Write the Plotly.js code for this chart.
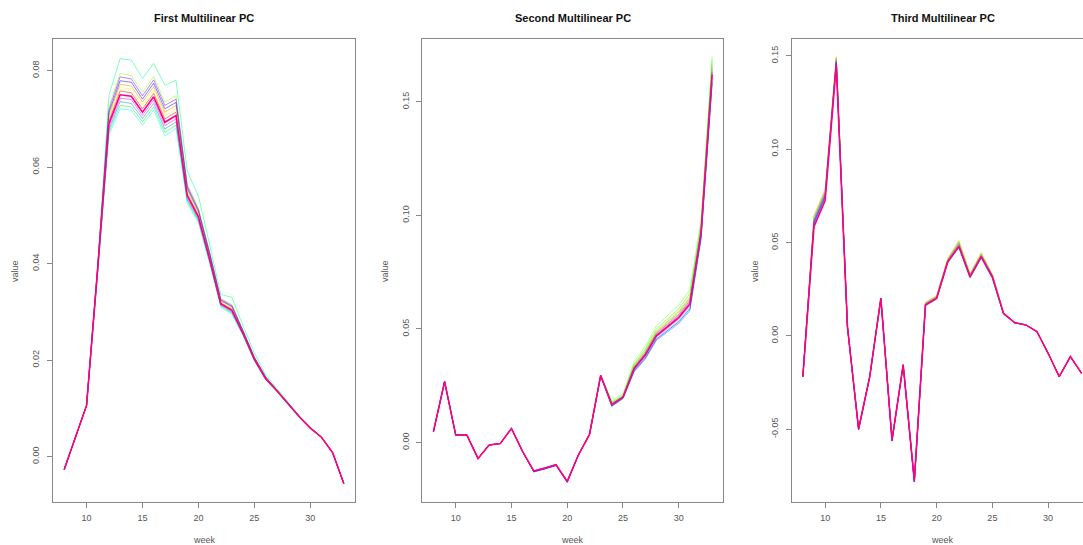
<!DOCTYPE html>
<html>
<head>
<meta charset="utf-8">
<script src="https://cdn.plot.ly/plotly-3.0.1.min.js"></script>
<style>html,body{margin:0;padding:0;background:#fff;}#chart{width:1083px;height:545px;}</style>
</head>
<body>
<div id="chart"></div>
<script>
const weeks = [8,9,10,11,12,13,14,15,16,17,18,19,20,21,22,23,24,25,26,27,28,29,30,31,32,33];
const seriesColors = ["#FF0000","#FF8000","#FFFF00","#80FF00","#00FF00","#00FF80","#00FFFF","#0080FF","#0000FF","#8000FF","#FF00FF","#FF0080"];
const panelTitles = ["First Multilinear PC","Second Multilinear PC","Third Multilinear PC"];
const xTickVals = [10,15,20,25,30];
const xTickText = ["10","15","20","25","30"];
const y1TickVals = [0,0.02,0.04,0.06,0.08];
const y1TickText = ["0.00","0.02","0.04","0.06","0.08"];
const y2TickVals = [0,0.05,0.10,0.15];
const y2TickText = ["0.00","0.05","0.10","0.15"];
const y3TickVals = [-0.05,0,0.05,0.10,0.15];
const y3TickText = ["-0.05","0.00","0.05","0.10","0.15"];

// First multilinear PC
const pc1_s01 = [-0.0027,0.0039,0.0106,0.0391,0.0696,0.0758,0.0754,0.0721,0.0753,0.0700,0.0714,0.0545,0.0500,0.0413,0.0319,0.0305,0.0256,0.0203,0.0163,0.0137,0.0110,0.0083,0.0060,0.0040,0.0008,-0.0056];
const pc1_s02 = [-0.0027,0.0039,0.0106,0.0393,0.0707,0.0772,0.0768,0.0735,0.0767,0.0714,0.0728,0.0553,0.0506,0.0418,0.0323,0.0309,0.0258,0.0204,0.0164,0.0138,0.0110,0.0083,0.0060,0.0040,0.0008,-0.0056];
const pc1_s03 = [-0.0027,0.0039,0.0106,0.0392,0.0701,0.0765,0.0761,0.0728,0.0760,0.0707,0.0721,0.0549,0.0503,0.0415,0.0321,0.0307,0.0257,0.0203,0.0164,0.0137,0.0110,0.0083,0.0060,0.0040,0.0008,-0.0056];
const pc1_s04 = [-0.0027,0.0039,0.0106,0.0396,0.0725,0.0794,0.0790,0.0755,0.0788,0.0735,0.0748,0.0565,0.0515,0.0425,0.0328,0.0315,0.0262,0.0207,0.0166,0.0139,0.0111,0.0084,0.0060,0.0040,0.0008,-0.0056];
const pc1_s05 = [-0.0027,0.0039,0.0106,0.0387,0.0672,0.0728,0.0725,0.0694,0.0725,0.0672,0.0687,0.0529,0.0488,0.0403,0.0312,0.0297,0.0251,0.0199,0.0161,0.0135,0.0108,0.0082,0.0059,0.0040,0.0008,-0.0056];
const pc1_s06 = [-0.0027,0.0039,0.0106,0.0400,0.0749,0.0825,0.0822,0.0784,0.0815,0.0770,0.0780,0.0592,0.0540,0.0440,0.0336,0.0330,0.0270,0.0215,0.0170,0.0142,0.0113,0.0085,0.0061,0.0041,0.0008,-0.0056];
const pc1_s07 = [-0.0027,0.0039,0.0106,0.0386,0.0666,0.0721,0.0718,0.0687,0.0718,0.0665,0.0680,0.0525,0.0485,0.0400,0.0310,0.0295,0.0250,0.0198,0.0160,0.0135,0.0108,0.0082,0.0059,0.0040,0.0008,-0.0056];
const pc1_s08 = [-0.0027,0.0039,0.0106,0.0388,0.0678,0.0736,0.0732,0.0701,0.0732,0.0679,0.0694,0.0533,0.0491,0.0405,0.0314,0.0299,0.0252,0.0200,0.0161,0.0136,0.0109,0.0082,0.0059,0.0040,0.0008,-0.0056];
const pc1_s09 = [-0.0027,0.0039,0.0106,0.0394,0.0713,0.0779,0.0776,0.0741,0.0774,0.0721,0.0734,0.0557,0.0509,0.0420,0.0324,0.0311,0.0260,0.0205,0.0165,0.0138,0.0110,0.0084,0.0060,0.0040,0.0008,-0.0056];
const pc1_s10 = [-0.0027,0.0039,0.0106,0.0395,0.0719,0.0787,0.0783,0.0748,0.0781,0.0728,0.0741,0.0561,0.0512,0.0423,0.0326,0.0313,0.0261,0.0206,0.0165,0.0139,0.0111,0.0084,0.0060,0.0040,0.0008,-0.0056];
const pc1_s11 = [-0.0027,0.0039,0.0106,0.0389,0.0684,0.0743,0.0740,0.0707,0.0739,0.0686,0.0700,0.0537,0.0494,0.0408,0.0315,0.0301,0.0254,0.0201,0.0162,0.0136,0.0109,0.0083,0.0059,0.0040,0.0008,-0.0056];
const pc1_s12 = [-0.0027,0.0039,0.0106,0.0390,0.0690,0.0750,0.0747,0.0714,0.0746,0.0693,0.0707,0.0541,0.0497,0.0410,0.0317,0.0303,0.0255,0.0202,0.0162,0.0137,0.0109,0.0083,0.0059,0.0040,0.0008,-0.0056];

// Second multilinear PC
const pc2_s01 = [0.0048,0.0268,0.0033,0.0033,-0.0070,-0.0011,-0.0004,0.0062,-0.0040,-0.0125,-0.0112,-0.0097,-0.0171,-0.0055,0.0036,0.0296,0.0171,0.0202,0.0332,0.0394,0.0480,0.0522,0.0563,0.0625,0.0933,0.1642];
const pc2_s02 = [0.0048,0.0268,0.0033,0.0033,-0.0070,-0.0011,-0.0004,0.0062,-0.0040,-0.0125,-0.0112,-0.0097,-0.0171,-0.0055,0.0036,0.0296,0.0175,0.0205,0.0339,0.0403,0.0490,0.0534,0.0576,0.0640,0.0946,0.1664];
const pc2_s03 = [0.0048,0.0268,0.0033,0.0033,-0.0070,-0.0011,-0.0004,0.0062,-0.0040,-0.0125,-0.0112,-0.0097,-0.0171,-0.0055,0.0036,0.0296,0.0177,0.0207,0.0343,0.0408,0.0495,0.0540,0.0583,0.0648,0.0953,0.1675];
const pc2_s04 = [0.0048,0.0268,0.0033,0.0033,-0.0070,-0.0011,-0.0004,0.0062,-0.0040,-0.0125,-0.0112,-0.0097,-0.0171,-0.0055,0.0036,0.0296,0.0186,0.0214,0.0356,0.0424,0.0513,0.0560,0.0605,0.0672,0.0975,0.1700];
const pc2_s05 = [0.0048,0.0268,0.0033,0.0033,-0.0070,-0.0011,-0.0004,0.0062,-0.0040,-0.0125,-0.0112,-0.0097,-0.0171,-0.0055,0.0036,0.0296,0.0173,0.0204,0.0336,0.0399,0.0485,0.0528,0.0570,0.0633,0.0940,0.1653];
const pc2_s06 = [0.0048,0.0268,0.0033,0.0033,-0.0070,-0.0011,-0.0004,0.0062,-0.0040,-0.0125,-0.0112,-0.0097,-0.0171,-0.0055,0.0036,0.0296,0.0179,0.0208,0.0346,0.0412,0.0500,0.0546,0.0589,0.0655,0.0959,0.1686];
const pc2_s07 = [0.0048,0.0268,0.0033,0.0033,-0.0070,-0.0011,-0.0004,0.0062,-0.0040,-0.0125,-0.0112,-0.0097,-0.0171,-0.0055,0.0036,0.0296,0.0163,0.0196,0.0318,0.0376,0.0460,0.0498,0.0537,0.0595,0.0907,0.1598];
const pc2_s08 = [0.0048,0.0268,0.0033,0.0033,-0.0070,-0.0011,-0.0004,0.0062,-0.0040,-0.0129,-0.0116,-0.0101,-0.0175,-0.0055,0.0036,0.0292,0.0159,0.0193,0.0311,0.0367,0.0450,0.0486,0.0524,0.0580,0.0894,0.1576];
const pc2_s09 = [0.0048,0.0268,0.0033,0.0033,-0.0070,-0.0011,-0.0004,0.0062,-0.0040,-0.0129,-0.0116,-0.0101,-0.0175,-0.0055,0.0036,0.0292,0.0161,0.0195,0.0315,0.0372,0.0455,0.0492,0.0531,0.0588,0.0900,0.1587];
const pc2_s10 = [0.0048,0.0268,0.0033,0.0033,-0.0070,-0.0011,-0.0004,0.0062,-0.0040,-0.0129,-0.0116,-0.0101,-0.0175,-0.0055,0.0036,0.0292,0.0169,0.0201,0.0329,0.0390,0.0475,0.0516,0.0557,0.0618,0.0927,0.1631];
const pc2_s11 = [0.0048,0.0268,0.0033,0.0033,-0.0070,-0.0011,-0.0004,0.0062,-0.0040,-0.0125,-0.0112,-0.0097,-0.0171,-0.0055,0.0036,0.0296,0.0165,0.0198,0.0322,0.0381,0.0465,0.0504,0.0544,0.0603,0.0914,0.1609];
const pc2_s12 = [0.0048,0.0268,0.0033,0.0033,-0.0070,-0.0011,-0.0004,0.0062,-0.0040,-0.0125,-0.0112,-0.0097,-0.0171,-0.0055,0.0036,0.0296,0.0167,0.0199,0.0325,0.0385,0.0470,0.0510,0.0550,0.0610,0.0920,0.1620];

// Third multilinear PC
const pc3_s01 = [-0.0219,0.0630,0.0770,0.1483,0.0049,-0.0498,-0.0219,0.0201,-0.0558,-0.0156,-0.0778,0.0174,0.0209,0.0408,0.0498,0.0326,0.0436,0.0323,0.0122,0.0070,0.0058,0.0022,-0.0094,-0.0219,-0.0112,-0.0201];
const pc3_s02 = [-0.0219,0.0645,0.0785,0.1495,0.0049,-0.0495,-0.0219,0.0201,-0.0555,-0.0156,-0.0775,0.0180,0.0215,0.0415,0.0510,0.0333,0.0445,0.0330,0.0125,0.0070,0.0058,0.0022,-0.0094,-0.0219,-0.0112,-0.0201];
const pc3_s03 = [-0.0219,0.0640,0.0780,0.1491,0.0049,-0.0496,-0.0219,0.0201,-0.0556,-0.0156,-0.0776,0.0178,0.0213,0.0413,0.0506,0.0331,0.0442,0.0328,0.0124,0.0070,0.0058,0.0022,-0.0094,-0.0219,-0.0112,-0.0201];
const pc3_s04 = [-0.0219,0.0625,0.0765,0.1479,0.0049,-0.0499,-0.0219,0.0201,-0.0559,-0.0156,-0.0779,0.0172,0.0207,0.0405,0.0494,0.0323,0.0433,0.0320,0.0121,0.0070,0.0058,0.0022,-0.0094,-0.0219,-0.0112,-0.0201];
const pc3_s05 = [-0.0219,0.0615,0.0755,0.1471,0.0049,-0.0501,-0.0219,0.0201,-0.0561,-0.0156,-0.0781,0.0168,0.0203,0.0400,0.0486,0.0318,0.0427,0.0315,0.0119,0.0070,0.0058,0.0022,-0.0094,-0.0219,-0.0112,-0.0201];
const pc3_s06 = [-0.0219,0.0635,0.0775,0.1487,0.0049,-0.0497,-0.0219,0.0201,-0.0557,-0.0156,-0.0777,0.0176,0.0211,0.0410,0.0502,0.0328,0.0439,0.0325,0.0123,0.0070,0.0058,0.0022,-0.0094,-0.0219,-0.0112,-0.0201];
const pc3_s07 = [-0.0219,0.0595,0.0735,0.1455,0.0049,-0.0505,-0.0219,0.0201,-0.0565,-0.0156,-0.0785,0.0160,0.0195,0.0390,0.0470,0.0308,0.0415,0.0305,0.0115,0.0070,0.0058,0.0022,-0.0094,-0.0219,-0.0112,-0.0201];
const pc3_s08 = [-0.0219,0.0605,0.0745,0.1463,0.0049,-0.0503,-0.0219,0.0201,-0.0563,-0.0156,-0.0783,0.0164,0.0199,0.0395,0.0478,0.0313,0.0421,0.0310,0.0117,0.0070,0.0058,0.0022,-0.0094,-0.0219,-0.0112,-0.0201];
const pc3_s09 = [-0.0219,0.0610,0.0750,0.1467,0.0049,-0.0502,-0.0219,0.0201,-0.0562,-0.0156,-0.0782,0.0166,0.0201,0.0398,0.0482,0.0316,0.0424,0.0313,0.0118,0.0070,0.0058,0.0022,-0.0094,-0.0219,-0.0112,-0.0201];
const pc3_s10 = [-0.0219,0.0600,0.0740,0.1459,0.0049,-0.0504,-0.0219,0.0201,-0.0564,-0.0156,-0.0784,0.0162,0.0197,0.0393,0.0474,0.0311,0.0418,0.0308,0.0116,0.0070,0.0058,0.0022,-0.0094,-0.0219,-0.0112,-0.0201];
const pc3_s11 = [-0.0219,0.0620,0.0760,0.1475,0.0049,-0.0500,-0.0219,0.0201,-0.0560,-0.0156,-0.0780,0.0170,0.0205,0.0403,0.0490,0.0321,0.0430,0.0318,0.0120,0.0070,0.0058,0.0022,-0.0094,-0.0219,-0.0112,-0.0201];
const pc3_s12 = [-0.0219,0.0585,0.0725,0.1450,0.0049,-0.0500,-0.0219,0.0201,-0.0560,-0.0156,-0.0775,0.0165,0.0201,0.0397,0.0478,0.0317,0.0424,0.0317,0.0120,0.0070,0.0058,0.0022,-0.0094,-0.0219,-0.0112,-0.0201];

const panels = [
  [pc1_s01,pc1_s02,pc1_s03,pc1_s04,pc1_s05,pc1_s06,pc1_s07,pc1_s08,pc1_s09,pc1_s10,pc1_s11,pc1_s12],
  [pc2_s01,pc2_s02,pc2_s03,pc2_s04,pc2_s05,pc2_s06,pc2_s07,pc2_s08,pc2_s09,pc2_s10,pc2_s11,pc2_s12],
  [pc3_s01,pc3_s02,pc3_s03,pc3_s04,pc3_s05,pc3_s06,pc3_s07,pc3_s08,pc3_s09,pc3_s10,pc3_s11,pc3_s12]
];

const traces = [];
panels.forEach((series, p) => {
  const ax = p === 0 ? '' : String(p + 1);
  series.forEach((vals, i) => {
    const last = i === series.length - 1;
    traces.push({
      x: weeks, y: vals, type: 'scatter', mode: 'lines',
      xaxis: 'x' + ax, yaxis: 'y' + ax,
      line: {color: seriesColors[i], width: last ? 1.6 : 1},
      opacity: last ? 1 : 0.5,
      hoverinfo: 'skip', showlegend: false
    });
  });
});

const W = 1083, H = 545;
const boxTop = 39.3, boxBottom = 501.6;
const yDom = [1 - boxBottom / H, 1 - boxTop / H];
const FONT = 'Liberation Sans, Arial, Helvetica, sans-serif';
const tickFont = {family: FONT, size: 9, color: '#555'};

function xa(domain, range) {
  return {
    domain: domain, range: range,
    tickmode: 'array', tickvals: xTickVals, ticktext: xTickText,
    ticks: 'outside', ticklen: 5, tickwidth: 1, tickcolor: '#888',
    tickfont: tickFont, ticklabelstandoff: 3,
    showline: true, linecolor: '#888', linewidth: 1, mirror: true,
    showgrid: false, zeroline: false, fixedrange: true
  };
}
function ya(range, tv, tt, mirror) {
  return {
    domain: yDom, range: range,
    tickmode: 'array', tickvals: tv, ticktext: tt, tickangle: -90,
    ticks: 'outside', ticklen: 5, tickwidth: 1, tickcolor: '#888',
    tickfont: tickFont, ticklabelstandoff: 4,
    showline: true, linecolor: '#888', linewidth: 1, mirror: mirror,
    showgrid: false, zeroline: false, fixedrange: true
  };
}

const x1 = xa([53 / W, 355 / W], [7, 34]); x1.anchor = 'y';
const x2 = xa([422.3 / W, 723.3 / W], [7, 34]); x2.anchor = 'y2';
const x3 = xa([791.7 / W, 1], [7, 33.13]); x3.anchor = 'y3';
const y1 = ya([-0.00934, 0.0865], y1TickVals, y1TickText, true); y1.anchor = 'x';
const y2 = ya([-0.026, 0.1775], y2TickVals, y2TickText, true); y2.anchor = 'x2';
const y3 = ya([-0.0889, 0.1589], y3TickVals, y3TickText, false); y3.anchor = 'x3';

const titleX = [204 / W, 572.8 / W, 942.7 / W];
const valueX = [15 / W, 385 / W, 755 / W];
const annotations = [];
panelTitles.forEach((t, i) => {
  annotations.push({text: '<b>' + t + '</b>', x: titleX[i], y: 1 - 18 / H, xref: 'paper', yref: 'paper',
    xanchor: 'center', yanchor: 'middle', showarrow: false, font: {family: FONT, size: 11, color: '#111'}});
  annotations.push({text: 'week', x: titleX[i], y: 1 - 540 / H, xref: 'paper', yref: 'paper',
    xanchor: 'center', yanchor: 'middle', showarrow: false, font: {family: FONT, size: 9, color: '#555'}});
  annotations.push({text: 'value', x: valueX[i], y: 1 - 271 / H, xref: 'paper', yref: 'paper', textangle: -90,
    xanchor: 'center', yanchor: 'middle', showarrow: false, font: {family: FONT, size: 9, color: '#555'}});
});

const layout = {
  width: W, height: H,
  margin: {l: 0, r: 0, t: 0, b: 0, pad: 0},
  paper_bgcolor: '#fff', plot_bgcolor: '#fff',
  showlegend: false,
  xaxis: x1, xaxis2: x2, xaxis3: x3,
  yaxis: y1, yaxis2: y2, yaxis3: y3,
  annotations: annotations
};

Plotly.newPlot('chart', traces, layout, {staticPlot: true, displayModeBar: false});
</script>
</body>
</html>
